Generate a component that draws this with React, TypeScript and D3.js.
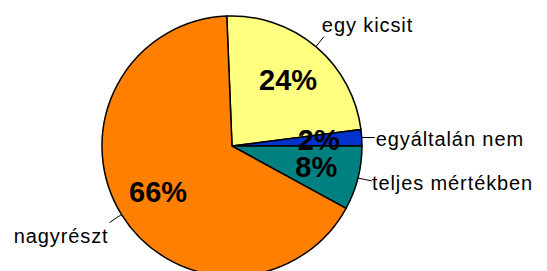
import * as d3 from 'd3';

// slices in drawing order, clockwise from just left of 12 o'clock
const categories = ['egy kicsit', 'egyáltalán nem', 'teljes mértékben', 'nagyrészt'];
const values = [23.6, 2.0, 8.0, 66.4];
const percentLabels = ['24%', '2%', '8%', '66%'];
const colors = ['#FFFF80', '#0033CC', '#008080', '#FF8000'];

// leader line offsets from the pie edge and text placement (layout only)
const leaders = [
  { dx: 8, dy: -10, tx: -2, ty: -5, anchor: 'start' },
  { dx: 13, dy: 0, tx: 1, ty: 8, anchor: 'start' },
  { dx: 14, dy: 3, tx: 0, ty: 9, anchor: 'start' },
  { dx: -12, dy: 8, tx: -1, ty: 20, anchor: 'end' },
];

export default function App() {
  const width = 547;
  const height = 271;
  const cx = 232;
  const cy = 146;
  const radius = 130;
  const start = (-2.3 * Math.PI) / 180;

  const pie = d3
    .pie<number>()
    .sort(null)
    .startAngle(start)
    .endAngle(start + Math.PI * 2)
    .value((d) => d);
  const arcs = pie(values);

  const arc = d3.arc<d3.PieArcDatum<number>>().innerRadius(0).outerRadius(radius);
  const labelArc = d3.arc<d3.PieArcDatum<number>>().innerRadius(87).outerRadius(87);
  const edgeArc = d3.arc<d3.PieArcDatum<number>>().innerRadius(radius).outerRadius(radius);

  return (
    <svg
      width={width}
      height={height}
      style={{ position: 'absolute', left: 0, top: 0, background: '#fff' }}
      fontFamily="'Liberation Sans', Arial, sans-serif"
    >
      <g transform={`translate(${cx},${cy})`}>
        {arcs.map((a, i) => (
          <path key={categories[i]} d={arc(a) || ''} fill={colors[i]} stroke="#000" strokeWidth={1.5} strokeLinejoin="round" />
        ))}
        {arcs.map((a, i) => {
          const [x, y] = labelArc.centroid(a);
          return (
            <text key={'p' + i} x={x} y={y + 10} textAnchor="middle" fontWeight="bold" fontSize={29} fill="#000">
              {percentLabels[i]}
            </text>
          );
        })}
        {arcs.map((a, i) => {
          const [x, y] = edgeArc.centroid(a);
          const l = leaders[i];
          const x2 = x + l.dx;
          const y2 = y + l.dy;
          return (
            <g key={'l' + i}>
              <line x1={x} y1={y} x2={x2} y2={y2} stroke="#000" strokeWidth={1} />
              <text x={x2 + l.tx} y={y2 + l.ty} textAnchor={l.anchor as any} fontSize={20} letterSpacing={0.9} fill="#000">
                {categories[i]}
              </text>
            </g>
          );
        })}
      </g>
    </svg>
  );
}
